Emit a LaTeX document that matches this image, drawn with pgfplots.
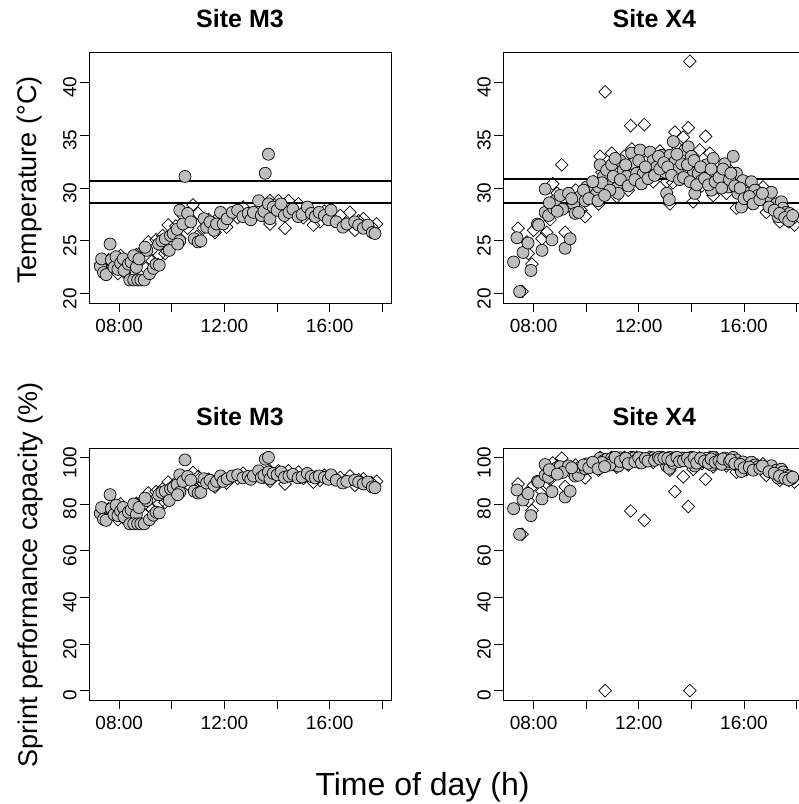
\documentclass[border=0pt]{standalone}
\usepackage{pgfplots}
\pgfplotsset{compat=1.18}
\usepackage{fontspec}
\setmainfont{Liberation Sans}
\definecolor{ptgray}{HTML}{BEBEBE}
\pgfplotsset{
  rpanel/.style={
    scale only axis, width=302bp,
    xmin=6.85, xmax=18.33,
    xtick={8,10,12,14,16,18},
    xticklabels={08:00,,12:00,,16:00,},
    tick align=outside,
    xtick pos=left, ytick pos=left,
    major tick length=9bp,
    tick style={black, line width=0.8bp},
    axis line style={line width=0.8bp},
    tick label style={font=\fontsize{19bp}{22bp}\selectfont},
    yticklabel style={rotate=90, anchor=south, xshift=-5bp},
    xticklabel style={anchor=north, yshift=-4bp},
    /pgf/number format/assume math mode=true,
    anchor=south west,
  },
  temp/.style={height=251bp, ymin=19.12, ymax=42.88, ytick={20,25,30,35,40}},
  perf/.style={height=252bp, ymin=-4, ymax=104, ytick={0,20,40,60,80,100}},
  circ/.style={only marks, mark=*, mark size=6bp, mark options={fill=ptgray, draw=black, line width=0.7bp}},
  diam/.style={only marks, mark=square, mark size=4.5bp, mark options={rotate=45, draw=black, fill=none, line width=0.7bp}},
  hline/.style={line width=2bp, black, no marks},
}
\begin{document}
\begin{tikzpicture}
\useasboundingbox (0,0) rectangle (799bp,804bp);
% ---------------- Top left: Site M3 temperature
\begin{axis}[rpanel, temp, at={(89bp,501bp)}]
\addplot[diam] coordinates {
(7.30,22.8) (7.45,22.0) (7.60,23.2) (7.75,22.6) (7.95,21.9) (8.05,23.6) (8.20,22.0) (8.35,23.0)
(8.50,21.8) (8.65,23.7) (8.85,24.0) (9.00,22.4) (9.10,24.9) (9.25,23.1) (9.40,25.1) (9.50,23.6)
(9.65,25.5) (9.74,23.8) (9.86,26.5) (10.00,24.6) (10.15,26.4) (10.30,25.2) (10.45,27.3) (10.60,26.2)
(10.80,28.4) (10.95,25.4) (11.00,27.6) (11.20,26.2) (11.40,27.0) (11.64,25.8) (11.80,27.3) (12.08,26.3)
(12.30,27.5) (12.50,27.2) (12.71,28.2) (12.90,27.6) (13.10,27.3) (13.30,28.0) (13.50,27.4) (13.73,28.8)
(13.73,26.6) (13.90,27.9) (14.05,28.8) (14.20,27.5) (14.30,26.2) (14.43,28.8) (14.60,27.8) (14.81,28.5)
(15.00,27.2) (15.20,27.9) (15.38,26.5) (15.50,27.6) (15.63,26.8) (15.80,27.8) (16.00,27.2) (16.20,26.9)
(16.40,27.4) (16.60,26.7) (16.77,27.7) (16.96,26.0) (17.10,26.9) (17.28,27.1) (17.45,26.4) (17.60,26.3)
(17.78,26.6)};
\addplot[circ] coordinates {
(7.28,22.6) (7.33,23.3) (7.40,22.0) (7.50,21.8) (7.65,24.7) (7.70,23.2) (7.80,22.5) (7.88,23.5)
(7.95,22.3) (8.05,22.9) (8.15,23.3) (8.18,22.2) (8.35,22.8) (8.45,23.0) (8.55,23.6) (8.65,22.5)
(8.75,23.3) (8.40,21.3) (8.55,21.3) (8.70,21.3) (8.82,21.3) (8.95,21.3) (9.05,24.1) (8.98,24.4)
(9.15,21.9) (9.30,22.4) (9.40,22.8) (9.52,22.7) (9.50,24.7) (9.62,25.0) (9.75,25.2) (9.90,24.1)
(9.95,25.5) (10.05,25.7) (10.20,26.1) (10.30,25.0) (10.22,24.7) (10.30,27.9) (10.42,26.6) (10.50,31.1)
(10.60,27.6) (10.72,26.8) (10.85,25.2) (11.00,24.9) (11.10,25.0) (11.22,27.1) (11.32,26.3) (11.45,26.8)
(11.60,26.0) (11.70,26.6) (11.85,27.7) (11.95,26.6) (12.10,27.1) (12.30,27.7) (12.50,27.9) (12.70,27.3)
(12.90,27.6) (13.00,27.0) (13.10,27.7) (13.30,28.8) (13.40,27.4) (13.50,27.8) (13.55,31.4) (13.67,33.2)
(13.67,28.5) (13.73,27.1) (13.85,28.2) (14.00,27.9) (14.15,28.5) (14.28,27.4) (14.45,27.7) (14.60,28.0)
(14.80,27.3) (14.95,27.5) (15.15,28.2) (15.30,27.6) (15.45,27.3) (15.60,27.7) (15.80,27.4) (15.95,27.0)
(16.05,27.9) (16.25,26.8) (16.50,26.3) (16.65,26.6) (16.95,26.8) (17.10,26.5) (17.28,26.2) (17.45,26.5)
(17.62,25.8) (17.72,25.7)};
\addplot[hline] coordinates {(6.85,30.63) (18.33,30.63)};
\addplot[hline] coordinates {(6.85,28.55) (18.33,28.55)};
\end{axis}
% ---------------- Top right: Site X4 temperature
\begin{axis}[rpanel, temp, at={(503.3bp,501bp)}]
\addplot[diam] coordinates {
(7.41,26.2) (7.56,20.2) (7.75,24.9) (7.94,22.8) (8.32,25.2) (8.63,27.0) (8.73,30.4) (9.07,32.2)
(9.20,25.8) (9.39,28.2) (9.96,27.3) (10.47,28.5) (10.53,33.0) (10.72,39.1) (10.97,33.3) (11.16,29.2)
(11.69,35.9) (11.73,33.7) (11.92,33.3) (12.21,36.0) (12.30,31.1) (12.55,30.6) (13.06,30.6) (13.18,28.5)
(13.37,35.3) (13.69,34.8) (13.88,35.7) (13.94,42.0) (14.07,28.7) (14.32,33.6) (14.54,34.9) (14.70,33.3)
(14.83,29.3) (15.33,29.5) (15.71,28.1) (16.34,29.0) (16.72,30.1) (16.85,27.7) (17.36,26.8) (17.92,26.5)
(10.30,30.6) (10.60,31.5) (10.90,30.2) (11.10,32.5) (11.30,31.0) (11.45,33.0) (11.60,29.8) (11.85,32.0)
(12.00,30.5) (12.40,32.8) (12.65,31.5) (12.80,33.5) (13.00,32.0) (13.30,30.5) (13.50,33.8) (13.60,31.0)
(14.20,31.8) (14.40,30.2) (14.95,32.5) (15.10,30.8) (15.50,31.6) (15.90,29.6) (16.10,28.6) (16.50,29.8)
(17.00,28.3) (17.50,27.5) (17.70,26.8) (8.00,26.0) (8.50,25.8) (8.90,29.5) (9.60,29.8) (9.80,27.9)
(7.80,23.8)};
\addplot[circ] coordinates {
(7.47,20.2) (7.24,23.0) (7.37,25.3) (7.60,23.9) (7.79,24.8) (7.90,22.2) (8.15,26.6) (8.19,26.5)
(8.32,24.1) (8.44,29.9) (8.44,27.7) (8.57,27.4) (8.70,25.1) (8.76,28.1) (8.82,28.8) (9.01,29.3)
(9.20,24.3) (9.39,25.2) (9.33,29.5) (9.52,28.5) (9.58,27.6) (9.71,27.7) (9.77,29.2) (9.96,28.8)
(10.02,30.1) (10.21,29.6) (10.34,29.3) (10.40,29.5) (10.47,30.1) (10.53,32.2) (10.66,31.1) (10.78,31.7)
(10.84,30.4) (10.97,32.2) (11.03,31.1) (11.16,30.0) (11.22,29.5) (11.29,32.6) (11.41,31.7) (11.54,31.1)
(11.73,33.3) (11.79,32.3) (11.92,31.4) (12.05,33.6) (12.17,31.4) (12.43,33.4) (12.55,32.6) (12.68,32.0)
(12.87,33.1) (13.00,31.5) (13.06,29.5) (13.16,28.9) (13.18,33.1) (13.31,34.4) (13.37,32.5) (13.50,31.8)
(13.63,32.3) (13.75,33.6) (13.88,33.9) (14.00,33.0) (14.07,31.4) (14.13,29.5) (14.26,31.4) (14.38,30.7)
(14.57,32.2) (14.70,31.1) (14.83,32.8) (14.76,29.8) (14.95,31.4) (15.27,32.3) (15.39,30.1) (15.59,33.0)
(15.71,31.4) (15.77,29.5) (15.90,28.2) (15.96,30.7) (16.09,29.5) (16.28,30.6) (16.41,29.8) (16.53,29.3)
(16.85,28.8) (17.04,29.6) (17.23,28.5) (17.29,27.3) (17.42,28.7) (17.48,28.1) (17.61,27.7) (17.73,27.6)
(17.80,27.1)
(10.60,30.5) (10.90,29.8) (11.10,32.8) (11.30,30.8) (11.50,32.2) (11.60,30.2) (11.85,30.8) (12.00,32.6)
(12.10,30.4) (12.25,32.0) (12.35,30.9) (12.60,31.2) (12.75,33.0) (12.80,31.8) (12.95,32.4) (13.10,32.0)
(13.25,31.2) (13.45,33.2) (13.55,30.8) (13.70,31.0) (13.85,32.2) (13.95,30.6) (14.10,32.6) (14.20,30.3)
(14.35,32.0) (14.50,30.9) (14.65,30.3) (14.75,31.8) (14.90,30.6) (15.05,31.0) (15.15,30.0) (15.20,31.8)
(15.45,30.8) (15.50,31.4) (15.65,30.2) (15.85,30.0) (16.00,29.0) (16.20,29.2) (16.35,28.5) (16.60,28.9)
(16.70,29.5) (16.95,28.2) (17.15,27.9) (17.35,27.6) (17.55,27.2) (17.70,26.9) (17.85,27.4) (9.10,28.0)
(9.45,29.0) (9.90,29.8) (10.10,29.0) (10.25,30.6) (10.45,28.8) (10.70,29.3) (8.60,28.6) (8.90,27.8)};
\addplot[hline] coordinates {(6.85,30.86) (18.33,30.86)};
\addplot[hline] coordinates {(6.85,28.55) (18.33,28.55)};
\end{axis}
% ---------------- Bottom left: Site M3 performance
\begin{axis}[rpanel, perf, at={(89bp,104bp)}]
\addplot[diam] coordinates {
(7.30,76.5) (7.45,73.5) (7.60,78) (7.75,76) (7.95,73.3) (8.05,80) (8.20,73.5) (8.35,77.5)
(8.50,73) (8.65,80.3) (8.85,81.2) (9.00,75.2) (9.10,84.7) (9.25,77.7) (9.40,85.3) (9.50,80)
(9.65,86.5) (9.74,80.7) (9.86,89.4) (10.00,83.7) (10.15,89.2) (10.30,85.5) (10.45,91.2) (10.60,88.6)
(10.80,93.5) (10.95,86.2) (11.00,91.8) (11.20,88.6) (11.40,90.6) (11.64,87.3) (11.80,91.2) (12.08,89)
(12.30,91.6) (12.50,91) (12.71,93.1) (12.90,91.8) (13.10,91.2) (13.30,92.7) (13.50,91.4) (13.73,94.2)
(13.73,89.7) (13.90,92.5) (14.05,94.2) (14.20,91.6) (14.30,88.6) (14.43,94.2) (14.60,92.3) (14.81,93.7)
(15.00,91) (15.20,92.5) (15.38,89.4) (15.50,91.8) (15.63,90.2) (15.80,92.3) (16.00,91) (16.20,90.4)
(16.40,91.4) (16.60,89.9) (16.77,92) (16.96,88) (17.10,90.4) (17.28,90.8) (17.45,89.2) (17.60,89)
(17.78,89.7)};
\addplot[circ] coordinates {
(7.28,76) (7.33,78.5) (7.40,73.5) (7.50,73) (7.65,84) (7.70,78) (7.80,75.5) (7.88,79.5)
(7.95,75) (8.05,77) (8.15,78.5) (8.18,74.5) (8.35,76.5) (8.45,77.5) (8.55,80) (8.65,75.5)
(8.75,78.5) (8.40,71.5) (8.55,71.5) (8.70,71.5) (8.82,71.5) (8.95,71.5) (9.05,81.5) (8.98,82.5)
(9.15,73.3) (9.30,75.2) (9.40,76.5) (9.52,76.2) (9.50,84) (9.62,85) (9.75,85.5) (9.90,81.5)
(9.95,86.5) (10.05,87) (10.20,88.3) (10.30,85) (10.22,84) (10.30,92.5) (10.42,89.7) (10.50,98.9)
(10.60,91.8) (10.72,90.2) (10.85,85.5) (11.00,84.7) (11.10,85) (11.22,90.8) (11.32,89) (11.45,90.2)
(11.60,88) (11.70,89.7) (11.85,92) (11.95,89.7) (12.10,90.8) (12.30,92) (12.50,92.5) (12.70,91.2)
(12.90,91.8) (13.00,90.6) (13.10,92) (13.30,94.2) (13.40,91.4) (13.50,92.3) (13.55,99.2) (13.67,100)
(13.67,93.7) (13.73,90.8) (13.85,93.1) (14.00,92.5) (14.15,93.7) (14.28,91.4) (14.45,92) (14.60,92.7)
(14.80,91.2) (14.95,91.6) (15.15,93.1) (15.30,91.8) (15.45,91.2) (15.60,92) (15.80,91.4) (15.95,90.6)
(16.05,92.5) (16.25,90.2) (16.50,89) (16.65,89.7) (16.95,90.2) (17.10,89.4) (17.28,88.6) (17.45,89.4)
(17.62,87.3) (17.72,87)};
\end{axis}
% ---------------- Bottom right: Site X4 performance
\begin{axis}[rpanel, perf, at={(503.3bp,104bp)}]
\addplot[diam] coordinates {
(7.41,88.6) (7.56,67) (7.75,84.7) (7.94,77.2) (8.32,85.5) (8.63,90.6) (8.73,97.6) (9.07,99.6)
(9.20,87.4) (9.39,93.9) (9.96,91.2) (10.47,94.5) (10.53,100) (10.72,0) (10.97,100) (11.16,95.8)
(11.69,77) (11.73,99.6) (11.92,100) (12.21,73) (12.30,98.6) (12.55,97.9) (13.06,97.9) (13.18,94.5)
(13.37,85.3) (13.69,91.7) (13.88,78.9) (13.94,0) (14.07,94.9) (14.32,99.7) (14.54,90.6) (14.70,100)
(14.83,96) (15.33,96.3) (15.71,93.7) (16.34,95.5) (16.72,97.2) (16.85,92.3) (17.36,90.2) (17.92,89.4)
(10.30,97.9) (10.60,99) (10.90,97.3) (11.10,99.8) (11.30,98.5) (11.45,100) (11.60,96.7) (11.85,99.5)
(12.00,97.8) (12.40,100) (12.65,99) (12.80,99.9) (13.00,99.5) (13.30,97.8) (13.50,99.4) (13.60,98.5)
(14.20,99.3) (14.40,97.3) (14.95,99.8) (15.10,98.2) (15.50,99.1) (15.90,96.4) (16.10,94.7) (16.50,96.7)
(17.00,94.1) (17.50,91.8) (17.70,90.2) (8.00,88) (8.50,87.4) (8.90,96.3) (9.60,96.7) (9.80,93.2)
(7.80,81.3)};
\addplot[circ] coordinates {
(7.47,67) (7.24,78) (7.37,86) (7.60,81.7) (7.79,84.5) (7.90,75) (8.15,89.7) (8.19,89.4)
(8.32,82.2) (8.44,96.9) (8.44,92.3) (8.57,91.5) (8.70,85.3) (8.76,93.7) (8.82,95.1) (9.01,96)
(9.20,83) (9.39,85.5) (9.33,96.3) (9.52,94.5) (9.58,92) (9.71,92.3) (9.77,95.8) (9.96,95.1)
(10.02,97.2) (10.21,96.4) (10.34,96) (10.40,96.3) (10.47,97.2) (10.53,99.6) (10.66,98.6) (10.78,99.2)
(10.84,97.6) (10.97,99.6) (11.03,98.6) (11.16,97) (11.22,96.3) (11.29,99.8) (11.41,99.2) (11.54,98.6)
(11.73,100) (11.79,99.7) (11.92,98.9) (12.05,99.7) (12.17,98.9) (12.43,99.9) (12.55,99.8) (12.68,99.5)
(12.87,100) (13.00,99) (13.06,96.3) (13.16,95.3) (13.18,100) (13.31,97.5) (13.37,99.8) (13.50,99.3)
(13.63,99.7) (13.75,99.7) (13.88,99.3) (14.00,100) (14.07,98.9) (14.13,96.3) (14.26,98.9) (14.38,98)
(14.57,99.6) (14.70,98.6) (14.83,100) (14.76,96.7) (14.95,98.9) (15.27,99.7) (15.39,97.2) (15.59,100)
(15.71,98.9) (15.77,96.3) (15.90,93.9) (15.96,98) (16.09,96.3) (16.28,97.9) (16.41,96.7) (16.53,96)
(16.85,95.1) (17.04,96.4) (17.23,94.5) (17.29,91.2) (17.42,94.9) (17.48,93.7) (17.61,92.3) (17.73,92)
(17.80,90.8)
(10.60,97.8) (10.90,96.7) (11.10,100) (11.30,98.2) (11.50,99.6) (11.60,97.3) (11.85,98.2) (12.00,99.8)
(12.10,97.6) (12.25,99.5) (12.35,98.4) (12.60,98.7) (12.75,100) (12.80,99.3) (12.95,99.7) (13.10,99.5)
(13.25,98.7) (13.45,100) (13.55,98.2) (13.70,98.5) (13.85,99.6) (13.95,97.9) (14.10,99.8) (14.20,97.5)
(14.35,99.5) (14.50,98.4) (14.65,97.5) (14.75,99.3) (14.90,97.9) (15.05,98.5) (15.15,97) (15.20,99.3)
(15.45,98.2) (15.50,98.9) (15.65,97.3) (15.85,97) (16.00,95.5) (16.20,95.8) (16.35,94.5) (16.60,95.3)
(16.70,96.3) (16.95,93.9) (17.15,93.2) (17.35,92) (17.55,91) (17.70,90.3) (17.85,91.5) (9.10,93.5)
(9.45,95.5) (9.90,96.7) (10.10,95.5) (10.25,97.9) (10.45,95.1) (10.70,96) (8.60,94.7) (8.90,92.8)};
\end{axis}
% ---------------- Titles and labels
\node[font=\bfseries\fontsize{25bp}{30bp}\selectfont, anchor=base] at (240bp,776.7bp) {Site M3};
\node[font=\bfseries\fontsize{25bp}{30bp}\selectfont, anchor=base] at (654.3bp,776.7bp) {Site X4};
\node[font=\bfseries\fontsize{25bp}{30bp}\selectfont, anchor=base] at (240bp,378.3bp) {Site M3};
\node[font=\bfseries\fontsize{25bp}{30bp}\selectfont, anchor=base] at (654.3bp,378.3bp) {Site X4};
\node[font=\fontsize{27bp}{32bp}\selectfont, anchor=base, rotate=90, inner sep=0pt] at (36bp,624bp) {Temperature (°C)};
\node[font=\fontsize{27bp}{32bp}\selectfont, anchor=base, rotate=90, inner sep=0pt] at (37bp,229bp) {Sprint performance capacity (\%)};
\node[font=\fontsize{32bp}{38bp}\selectfont, anchor=base, inner sep=0pt] at (422.5bp,9bp) {Time of day (h)};
\end{tikzpicture}
\end{document}
